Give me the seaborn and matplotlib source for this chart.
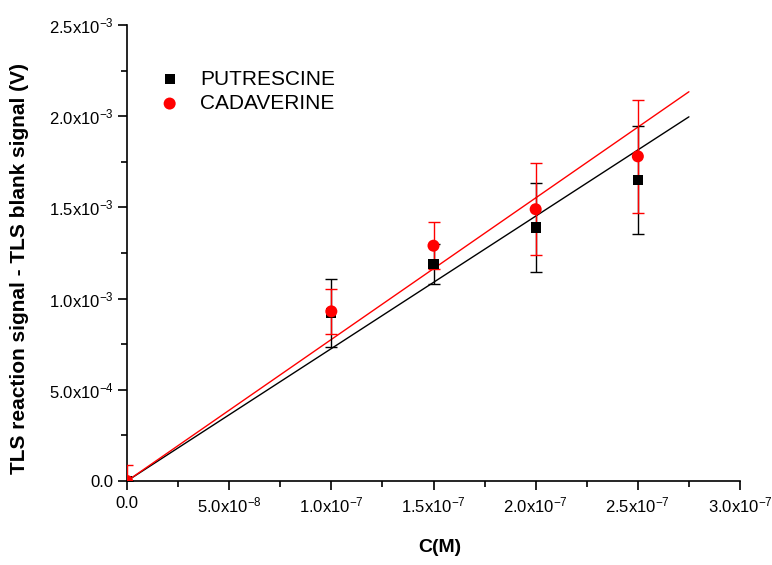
import numpy as np
import pandas as pd
import matplotlib
matplotlib.use("Agg")
import matplotlib.pyplot as plt
import seaborn as sns

# Concentration (M) and blank-corrected TLS signal (V)
conc = [0.0, 1.0e-7, 1.5e-7, 2.0e-7, 2.5e-7]
putrescine = [0.0, 0.92e-3, 1.19e-3, 1.39e-3, 1.65e-3]
putrescine_err = [0.0, 0.187e-3, 0.11e-3, 0.246e-3, 0.297e-3]
cadaverine = [0.0, 0.93e-3, 1.29e-3, 1.49e-3, 1.78e-3]
cadaverine_err = [0.09e-3, 0.123e-3, 0.128e-3, 0.253e-3, 0.31e-3]

# Calibration lines through the origin (V/M)
putrescine_slope = 7260.0
cadaverine_slope = 7760.0
fit_range = [0.0, 2.75e-7]

x_ticks = [0.0, 5.0e-8, 1.0e-7, 1.5e-7, 2.0e-7, 2.5e-7, 3.0e-7]
x_tick_labels = ["0.0", r"5.0x10$^{-8}$", r"1.0x10$^{-7}$", r"1.5x10$^{-7}$",
                 r"2.0x10$^{-7}$", r"2.5x10$^{-7}$", r"3.0x10$^{-7}$"]
y_ticks = [0.0, 0.5e-3, 1.0e-3, 1.5e-3, 2.0e-3, 2.5e-3]
y_tick_labels = ["0.0", r"5.0x10$^{-4}$", r"1.0x10$^{-3}$", r"1.5x10$^{-3}$",
                 r"2.0x10$^{-3}$", r"2.5x10$^{-3}$"]

sns.set_theme(style="ticks")
plt.rcParams["font.family"] = ["Liberation Sans", "DejaVu Sans"]
plt.rcParams["text.color"] = "black"
plt.rcParams["axes.labelcolor"] = "black"
plt.rcParams["mathtext.fontset"] = "custom"
plt.rcParams["mathtext.rm"] = "Liberation Sans"
plt.rcParams["mathtext.it"] = "Liberation Sans"
plt.rcParams["mathtext.bf"] = "Liberation Sans:bold"
plt.rcParams["mathtext.default"] = "regular"

fig = plt.figure(figsize=(7.72, 5.65), dpi=100)
ax = fig.add_axes([127 / 772, 1 - 481 / 565, (740 - 127) / 772, (481 - 25) / 565])

fits = pd.DataFrame({
    "C": fit_range * 2,
    "signal": [putrescine_slope * x for x in fit_range] + [cadaverine_slope * x for x in fit_range],
    "compound": ["PUTRESCINE"] * 2 + ["CADAVERINE"] * 2,
})
sns.lineplot(data=fits, x="C", y="signal", hue="compound",
             palette={"PUTRESCINE": "black", "CADAVERINE": "red"},
             linewidth=1.0, legend=False, ax=ax, zorder=2)

series = [
    ("PUTRESCINE", putrescine, putrescine_err, "black", "s", 55),
    ("CADAVERINE", cadaverine, cadaverine_err, "red", "o", 75),
]
for name, vals, errs, color, marker, size in series:
    ax.errorbar(conc, vals, yerr=errs, fmt="none", ecolor=color,
                elinewidth=1.0, capsize=4, capthick=1.0, zorder=3)
    sns.scatterplot(x=conc, y=vals, color=color, marker=marker, s=size,
                    edgecolor="none", label=name, ax=ax, zorder=4)

ax.set_xlim(0, 3.0e-7)
ax.set_ylim(0, 2.5e-3)
ax.set_xticks(x_ticks, x_tick_labels)
ax.set_yticks(y_ticks, y_tick_labels)
ax.set_xticks([2.5e-8 + 5e-8 * i for i in range(6)], minor=True)
ax.set_yticks([0.25e-3 + 0.5e-3 * i for i in range(5)], minor=True)

for side in ("top", "right"):
    ax.spines[side].set_visible(False)
for side in ("left", "bottom"):
    ax.spines[side].set_linewidth(1.2)
    ax.spines[side].set_color("black")

ax.tick_params(axis="both", which="major", direction="out", length=6.5, width=1.2,
               color="black", labelsize=12, labelcolor="black")
ax.tick_params(axis="y", which="major", pad=3)
ax.tick_params(axis="x", which="major", pad=4)
ax.tick_params(axis="both", which="minor", direction="out", length=4, width=1.2,
               color="black")

ax.set_xlabel("C(M)", fontsize=14, fontweight="bold", va="center", color="black")
ax.xaxis.set_label_coords(0.51, -(548 - 481) / 456)
ax.set_ylabel("TLS reaction signal - TLS blank signal (V)", fontsize=15,
              fontweight="bold", va="center", color="black")
ax.yaxis.set_label_coords(-(127 - 20) / 613, 0.467)

leg = ax.legend(loc="upper left", bbox_to_anchor=(0.022, 0.92), frameon=False,
                fontsize=15, handletextpad=0.45, labelspacing=0.25, borderaxespad=0)
for t in leg.get_texts():
    t.set_color("black")

fig.savefig("out.png", dpi=100)
